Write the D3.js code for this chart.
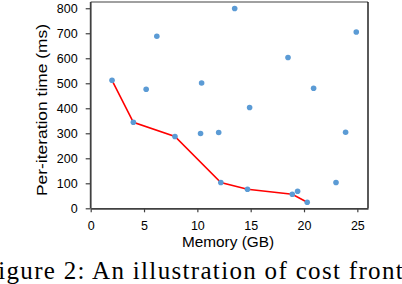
<!DOCTYPE html>
<html><head><meta charset="utf-8">
<script src="https://cdn.jsdelivr.net/npm/d3@7"></script>
<style>
html,body{margin:0;padding:0;background:#fff;overflow:hidden;}
svg{display:block;}
</style></head>
<body>
<svg id="chart" width="402" height="284"></svg>
<script>
// Data (memory in GB, per-iteration time in ms)
const memory = [2.0, 4.0, 6.2, 5.2, 7.9, 10.3, 10.4, 13.5, 24.9, 18.5, 20.9, 14.9, 12.0, 23.9, 12.2, 14.7, 18.9, 19.4, 20.3, 23.0];
const timeMs = [512, 344, 688, 476, 287, 299, 501, 799, 705, 603, 480, 403, 303, 304, 103, 76, 56, 68, 24, 103];
// Cost frontier (pareto front)
const frontMemory = [2.0, 4.0, 7.9, 12.2, 14.7, 18.9, 20.3];
const frontTime = [512, 344, 287, 103, 76, 56, 24];
const xTicks = [0, 5, 10, 15, 20, 25];
const yTicks = [0, 100, 200, 300, 400, 500, 600, 700, 800];
const xLabel = "Memory (GB)";
const yLabel = "Per-iteration time (ms)";
const caption = "Figure 2: An illustration of cost frontier";

const svg = d3.select("#chart");
const x = d3.scaleLinear().domain([0, 26]).range([90.7, 368]);
const y = d3.scaleLinear().domain([0, 825]).range([208.3, 2]);

// frame: top grey, right black
svg.append("line").attr("x1", x(0)).attr("x2", x(26)).attr("y1", y(825)).attr("y2", y(825))
  .attr("stroke", "#808080").attr("stroke-width", 1.6);
svg.append("line").attr("x1", x(26)).attr("x2", x(26)).attr("y1", y(825)).attr("y2", y(0))
  .attr("stroke", "#000").attr("stroke-width", 1.3);

const fontAxis = "Liberation Sans, Arial, sans-serif";
const gx = svg.append("g").attr("transform", `translate(0,${y(0)})`)
  .call(d3.axisBottom(x).tickValues(xTicks).tickSize(4).tickPadding(9).tickSizeOuter(0));
const gy = svg.append("g").attr("transform", `translate(${x(0)},0)`)
  .call(d3.axisLeft(y).tickValues(yTicks).tickSize(5).tickPadding(8).tickSizeOuter(0));
[gx, gy].forEach(g => {
  g.select(".domain").attr("stroke", "#404040").attr("stroke-width", 1.8);
  g.selectAll(".tick line").attr("stroke", "#404040").attr("stroke-width", 1.2);
  g.selectAll(".tick text").attr("font-family", fontAxis).attr("font-size", 12.5).attr("fill", "#000");
});
gy.select(".domain").attr("d", `M0,${y(825)}V${y(0)}`);

// frontier line
const line = d3.line().x(d => x(d[0])).y(d => y(d[1]));
svg.append("path").datum(d3.zip(frontMemory, frontTime)).attr("d", line)
  .attr("fill", "none").attr("stroke", "#ff0000").attr("stroke-width", 1.6);

// points
svg.append("g").selectAll("circle").data(d3.zip(memory, timeMs)).join("circle")
  .attr("cx", d => x(d[0])).attr("cy", d => y(d[1])).attr("r", 2.8).attr("fill", "#5b9bd5");

// axis labels
svg.append("text").attr("x", 228).attr("y", 247).attr("text-anchor", "middle")
  .attr("font-family", fontAxis).attr("font-size", 14.5)
  .attr("textLength", 92).attr("lengthAdjust", "spacingAndGlyphs").text(xLabel);
svg.append("text").attr("transform", "translate(47,110) rotate(-90)").attr("text-anchor", "middle")
  .attr("font-family", fontAxis).attr("font-size", 14.5)
  .attr("textLength", 172).attr("lengthAdjust", "spacingAndGlyphs").text(yLabel);

// caption (cut off at the edges, as in the reference)
svg.append("text").attr("x", -17).attr("y", 279)
  .attr("font-family", "'Liberation Serif', 'Times New Roman', serif").attr("font-size", 25)
  .attr("textLength", 450).attr("lengthAdjust", "spacing")
  .text(caption);
</script>
</body></html>
